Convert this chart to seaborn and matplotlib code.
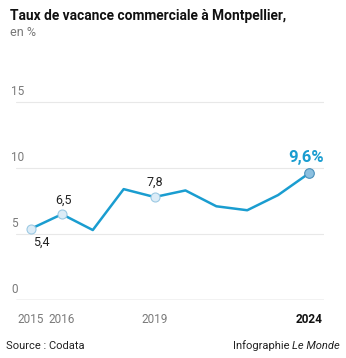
import matplotlib
matplotlib.use("Agg")
import matplotlib.pyplot as plt
import seaborn as sns
import pandas as pd

years = [2015, 2016, 2017, 2018, 2019, 2020, 2021, 2022, 2023, 2024]
rates = [5.4, 6.5, 5.3, 8.4, 7.8, 8.3, 7.1, 6.8, 7.95, 9.6]
labeled_years = [2015, 2016, 2019]
labeled_texts = ["5,4", "6,5", "7,8"]
last_label = "9,6%"
y_ticks = [0, 5, 10, 15]
x_ticks = [2015, 2016, 2019, 2024]

sns.set_style("white")
plt.rcParams['font.family'] = ['Roboto', 'DejaVu Sans']

df = pd.DataFrame({"year": years, "rate": rates})

fig = plt.figure(figsize=(3.46, 3.58), dpi=100)
ax = fig.add_axes([16/346, (358-300)/358, 308/346, 16*13.2/358])

line_color = "#1a9dd0"
grid_color = "#e8e8e8"

for t in y_ticks:
    ax.axhline(t, color="#9a9a9a" if t == 0 else grid_color, lw=0.9 if t == 0 else 0.8, zorder=0)
    ax.text(-0.015, t + 0.3, str(t), transform=ax.get_yaxis_transform(),
            ha="left", va="bottom", fontsize=8.5, color="#7a7a7a")

sns.lineplot(data=df, x="year", y="rate", ax=ax, color=line_color, lw=1.8, zorder=2)

lab = df[df.year.isin(labeled_years)]
ax.scatter(lab.year, lab.rate, s=42, color="#dcecf7", edgecolor="#9cc9e3", lw=0.8, zorder=3)
ax.scatter([years[-1]], [rates[-1]], s=48, color="#8cc0e0", edgecolor="#4a90bb", lw=0.8, zorder=3)

offsets = {2015: (0.35, -0.5), 2016: (0.05, 0.6), 2019: (0.0, 0.65)}
for yr, txt in zip(labeled_years, labeled_texts):
    v = rates[years.index(yr)]
    dx, dy = offsets[yr]
    ax.text(yr + dx, v + dy, txt, ha="center", va="bottom" if dy > 0 else "top",
            fontsize=9, color="#222222")
ax.text(years[-1] - 0.1, rates[-1] + 0.65, last_label, ha="center", va="bottom",
        fontsize=12, fontweight="bold", color=line_color)

ax.set_xlim(2014.514, 2024.486)
ax.set_ylim(0, 16)
ax.set_xticks([])
ax.set_yticks([])
ax.set_xlabel("")
ax.set_ylabel("")
for s in ax.spines.values():
    s.set_visible(False)

for yr in x_ticks:
    ax.text(yr, -1.0, str(yr), ha="center", va="top", fontsize=8.5,
            color="#111111" if yr == 2024 else "#7a7a7a",
            fontweight="bold" if yr == 2024 else "normal")

fig.text(10/346, 1 - 16/358, "Taux de vacance commerciale à Montpellier,", ha="left", va="center",
         fontsize=9.9, fontweight="bold", color="#111111")
fig.text(10/346, 1 - 32/358, "en %", ha="left", va="center", fontsize=9, color="#777777")
fig.text(6/346, 1 - 346/358, "Source : Codata", ha="left", va="center", fontsize=8, color="#222222")
t1 = fig.text(1 - 6/346, 1 - 346/358, "Infographie ", ha="right", va="center", fontsize=8, color="#222222")
fig.canvas.draw()
r = fig.canvas.get_renderer()
bb = fig.text(0, 0, "Le Monde", fontsize=8, style="italic").get_window_extent(r)
fig.texts[-1].remove()
t1.set_position((1 - 6/346 - bb.width/346, 1 - 346/358))
fig.text(1 - 6/346, 1 - 346/358, "Le Monde", ha="right", va="center", fontsize=8,
         style="italic", color="#222222")

fig.savefig("out.png", dpi=100)
